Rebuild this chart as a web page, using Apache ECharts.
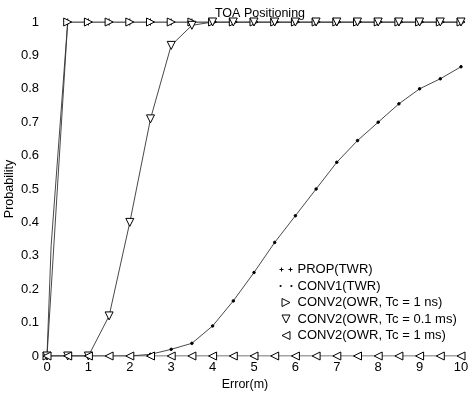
<!DOCTYPE html>
<html>
<head>
<meta charset="utf-8">
<script src="https://cdn.jsdelivr.net/npm/echarts@6/dist/echarts.min.js"></script>
<style>html,body{margin:0;padding:0;background:#fff}#c{width:470px;height:395px}</style>
</head>
<body>
<div id="c"></div>
<script>
var xs = [0,0.5,1,1.5,2,2.5,3,3.5,4,4.5,5,5.5,6,6.5,7,7.5,8,8.5,9,9.5,10];
var seriesNames = ['PROP(TWR)','CONV1(TWR)','CONV2(OWR, Tc = 1 ns)','CONV2(OWR, Tc = 0.1 ms)','CONV2(OWR, Tc = 1 ms)'];
var propX = [0,0.1,0.5,1,1.5,2,2.5,3,3.5,4,4.5,5,5.5,6,6.5,7,7.5,8,8.5,9,9.5,10];
var propY = [0,0.33,1,1,1,1,1,1,1,1,1,1,1,1,1,1,1,1,1,1,1,1];
var conv1Y = [0,0,0,0,0,0.005,0.02,0.038,0.09,0.165,0.25,0.34,0.42,0.50,0.58,0.645,0.70,0.755,0.80,0.83,0.866];
var conv2nsY = [0,1,1,1,1,1,1,1,1,1,1,1,1,1,1,1,1,1,1,1,1];
var conv2p1msY = [0,0,0,0.12,0.40,0.71,0.93,0.99,1,1,1,1,1,1,1,1,1,1,1,1,1];
var conv2msY = [0,0,0,0,0,0,0,0,0,0,0,0,0,0,0,0,0,0,0,0,0];
var xTicks = [0,1,2,3,4,5,6,7,8,9,10];
var yTicks = ['0','0.1','0.2','0.3','0.4','0.5','0.6','0.7','0.8','0.9','1'];

function pairs(x, y){ return x.map(function(v,i){ return [v, y[i]]; }); }
var FONT = 'Liberation Sans';
var plus = 'path://M0,5L10,5M5,0L5,10';
function mk(name, data, symbol, rot, size, filled){
  return {
    name: name, type: 'line', data: data,
    symbol: symbol, symbolSize: size, symbolRotate: rot,
    showAllSymbol: true,
    lineStyle: {color:'#333', width:0.9},
    itemStyle: {color: filled ? '#000' : '#fff', borderColor:'#000', borderWidth:1},
    emphasis: {disabled:true},
    animation: false
  };
}
var propData = pairs(propX, propY);
propData[1] = {value: propData[1], symbol: 'none'};
var legendIcons = [
  'path://M0,3L4,3M2,1L2,5M9,3L13,3M11,1L11,5',
  'path://M0,1a1,1 0 1,0 2,0a1,1 0 1,0 -2,0ZM10,1a1,1 0 1,0 2,0a1,1 0 1,0 -2,0Z',
  'path://M0,0L8,4L0,8Z',
  'path://M0,0L8,0L4,8Z',
  'path://M8,0L0,4L8,8Z'
];
var chart = echarts.init(document.getElementById('c'), null, {renderer:'canvas'});
chart.setOption({
  backgroundColor: '#fff',
  animation: false,
  textStyle: {fontFamily: FONT},
  title: {text:'TOA Positioning', left: 255, top: 2, textAlign: 'center',
    textStyle:{fontFamily:FONT, fontSize:12.5, fontWeight:'normal', color:'#000'}},
  grid: {left:47, right:9, top:22, bottom:39, containLabel:false, outerBoundsMode:'none'},
  legend: {
    orient:'vertical', left:274, top:258, itemGap:3.5, itemWidth:13, itemHeight:8,
    itemStyle:{borderColor:'#000', borderWidth:1},
    data: seriesNames.map(function(n,i){
      return {name:n, icon:legendIcons[i],
        itemStyle: i === 1 ? {color:'#000', borderWidth:0} : {color:'#fff', borderColor:'#000', borderWidth:1}};
    }),
    textStyle:{fontFamily:FONT, fontSize:13, color:'#000'}
  },
  xAxis: {
    type:'value', min:0, max:10, interval:1,
    name:'Error(m)', nameLocation:'middle', nameGap:22, nameMoveOverlap:false,
    nameTextStyle:{fontFamily:FONT, fontSize:12.5, color:'#000', padding:[0,18,0,0]},
    axisLine:{show:false}, axisTick:{show:false}, splitLine:{show:false},
    axisLabel:{fontFamily:FONT, fontSize:13, color:'#000', margin:5,
      formatter:function(v){ return xTicks.indexOf(v) >= 0 ? String(v) : ''; }}
  },
  yAxis: {
    type:'value', min:0, max:1, interval:0.1,
    name:'Probability', nameLocation:'middle', nameGap:31, nameRotate:90, nameMoveOverlap:false,
    nameTextStyle:{fontFamily:FONT, fontSize:12.5, color:'#000'},
    axisLine:{show:false}, axisTick:{show:false}, splitLine:{show:false},
    axisLabel:{fontFamily:FONT, fontSize:13, color:'#000', margin:8,
      formatter:function(v){ return yTicks[Math.round(v*10)]; }}
  },
  series: [
    mk(seriesNames[0], propData, plus, 0, 7, false),
    mk(seriesNames[1], pairs(xs, conv1Y), 'circle', 0, 2.5, true),
    mk(seriesNames[2], pairs(xs, conv2nsY), 'triangle', -90, 8, false),
    mk(seriesNames[3], pairs(xs, conv2p1msY), 'triangle', 180, 8, false),
    mk(seriesNames[4], pairs(xs, conv2msY), 'triangle', 90, 8, false)
  ]
});
</script>
</body>
</html>
